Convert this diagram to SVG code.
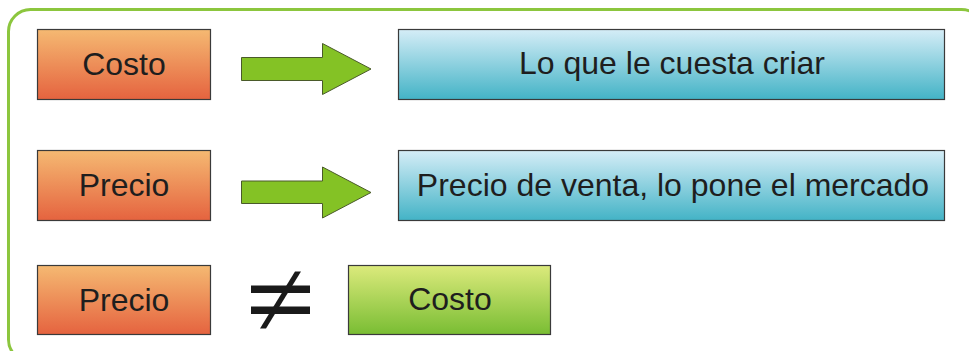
<svg xmlns="http://www.w3.org/2000/svg" width="969" height="351" viewBox="0 0 969 351">
<defs>
<linearGradient id="gOrange" x1="0" y1="0" x2="0" y2="1"><stop offset="0" stop-color="#f5b972"/><stop offset="1" stop-color="#e5633f"/></linearGradient>
<linearGradient id="gBlue" x1="0" y1="0" x2="0" y2="1"><stop offset="0" stop-color="#d5edf7"/><stop offset="1" stop-color="#43b3c6"/></linearGradient>
<linearGradient id="gGreen" x1="0" y1="0" x2="0" y2="1"><stop offset="0" stop-color="#dcea7c"/><stop offset="1" stop-color="#79bd33"/></linearGradient>
</defs>
<style>
.box{stroke:#3a3a3a;stroke-width:1.2}
.lbl{font-family:"Liberation Sans",Arial,sans-serif;font-size:32px;fill:#1e1e1e;text-anchor:middle}
.arrow{fill:#84c225;stroke:#4a5a2a;stroke-width:1}
</style>
<rect x="8.5" y="9.5" width="975" height="352" rx="22" fill="#ffffff" stroke="#8cc63e" stroke-width="3"/>
<g id="costo1"><rect class="box" x="37.5" y="29.5" width="173" height="70" fill="url(#gOrange)"/><text class="lbl" x="124" y="75">Costo</text></g>
<g id="def1"><rect class="box" x="398.5" y="29.5" width="546" height="70" fill="url(#gBlue)"/><text class="lbl" x="672" y="74">Lo que le cuesta criar</text></g>
<g id="precio1"><rect class="box" x="37.5" y="150.5" width="173" height="70" fill="url(#gOrange)"/><text class="lbl" x="124" y="196">Precio</text></g>
<g id="def2"><rect class="box" x="398.5" y="150.5" width="546" height="70" fill="url(#gBlue)"/><text class="lbl" x="673" y="196">Precio de venta, lo pone el mercado</text></g>
<g id="precio2"><rect class="box" x="37.5" y="265.5" width="173" height="69" fill="url(#gOrange)"/><text class="lbl" x="124" y="311">Precio</text></g>
<g id="costo2"><rect class="box" x="348.5" y="265.5" width="202" height="69" fill="url(#gGreen)"/><text class="lbl" x="450" y="310">Costo</text></g>
<g id="neq" fill="#1a1a1a"><rect x="251" y="285.5" width="59" height="7.5"/><rect x="251" y="306.5" width="59" height="7.5"/><polygon points="295,271.5 301,271.5 266,328.5 260,328.5"/></g>
<g id="connectors">
<polygon class="arrow" points="241.5,57.5 322.5,57.5 322.5,43.5 371,69 322.5,94.5 322.5,80.5 241.5,80.5"/>
<polygon class="arrow" points="241.5,181 322.5,181 322.5,167 371,192.5 322.5,218 322.5,203.5 241.5,203.5"/>
</g>
</svg>
